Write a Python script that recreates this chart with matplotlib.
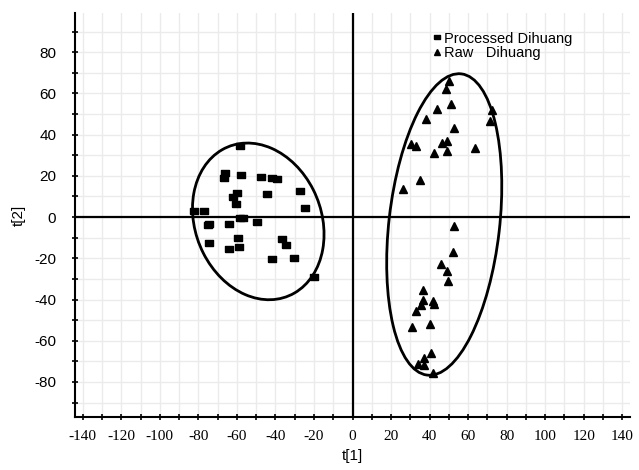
import matplotlib
matplotlib.use("Agg")
import matplotlib.pyplot as plt
from matplotlib.patches import Ellipse
from matplotlib.lines import Line2D
import numpy as np

# Processed Dihuang (squares)
proc_x = [-58.5, -66, -66.5, -58, -47.3, -41.8, -39.3, -59.7, -61.8, -44.3, -27.3, -60.2,
          -24.7, -82.3, -77.2, -58.5, -56.8, -49.3, -74.8, -74.3, -64.3, -74.5, -59.5,
          -64.3, -59, -36.4, -34.6, -41.8, -30.2, -19.9]
proc_y = [34.6, 21.5, 19, 20.6, 19.4, 18.9, 18.5, 11.6, 9.9, 11.2, 12.8, 6.5,
          4.4, 2.8, 2.8, -0.6, -0.6, -2.3, -3.9, -3.3, -3.3, -12.5, -10.4,
          -15.3, -14.6, -10.7, -13.5, -20.5, -20.1, -29.1]

# Raw Dihuang (triangles)
raw_x = [49.9, 48.7, 51.3, 44.1, 72.2, 71.5, 37.9, 52.5, 30.5, 32.9, 46.2, 49, 49, 42.4,
         63.7, 35, 26.4, 52.5, 52, 46, 49.2, 49.8, 36.4, 36.4, 35.5, 41.9, 42.4, 32.9,
         30.7, 40, 40.8, 37.2, 34, 37.2, 41.8]
raw_y = [66, 62.1, 54.8, 52.3, 51.7, 46.8, 47.5, 43.1, 35.3, 34.3, 35.8, 37.1, 31.9, 30.9,
         33.5, 17.9, 13.7, -4.2, -16.9, -22.9, -26.3, -31.2, -35.5, -40.2, -42.6, -40.6,
         -42.3, -45.5, -53.2, -52, -66, -68.4, -71.4, -71.9, -75.6]

# Confidence ellipses: center, full width, full height, angle (deg)
ell1 = dict(center=(-48.9, -2.1), width=79.0, height=64.8, angle=-61.6)
ell2 = dict(center=(47.6, -3.6), width=147.2, height=57.4, angle=83.0)

xticks_major = list(range(-140, 141, 20))
xticks_minor = list(range(-140, 141, 10))
yticks_major = list(range(-80, 81, 20))
yticks_minor = list(range(-90, 91, 10))

fig = plt.figure(figsize=(6.39, 4.70), dpi=100)
ax = fig.add_axes([75/639, 53/470, 555/639, 404/470])
ax.set_xlim(-144, 144)
ax.set_ylim(-97, 99)

# grid
for v in xticks_minor:
    ax.axvline(v, color="#ebebeb", lw=1.0, zorder=0)
for v in yticks_minor:
    ax.axhline(v, color="#ebebeb", lw=1.0, zorder=0)

ax.axhline(0, color="black", lw=1.6, zorder=2)
ax.axvline(0, color="black", lw=1.6, zorder=2)

sq = [(-1.4, -1), (1.4, -1), (1.4, 1), (-1.4, 1), (-1.4, -1)]
ax.plot(proc_x, proc_y, linestyle="none", marker=sq, markersize=5.2, color="black", zorder=3)
ax.plot(raw_x, raw_y, linestyle="none", marker="^", markersize=5.2, color="black", zorder=3)

for e in (ell1, ell2):
    ax.add_patch(Ellipse(e["center"], e["width"], e["height"], angle=e["angle"],
                         fill=False, edgecolor="black", lw=2.0, zorder=4))

for s in ("top", "right"):
    ax.spines[s].set_visible(False)
for s in ("left", "bottom"):
    ax.spines[s].set_linewidth(1.5)

ax.set_xticks(xticks_minor)
ax.set_xticklabels([str(v) if v in xticks_major else "" for v in xticks_minor],
                   family="Liberation Serif", fontsize=11)
ax.set_yticks(yticks_minor)
ax.set_yticklabels([str(v) if v in yticks_major else "" for v in yticks_minor],
                   family="Liberation Sans", fontsize=11)
ax.tick_params(axis="both", direction="inout", length=5, width=1.2, pad=7)
ax.tick_params(axis="y", pad=11)

ax.set_xlabel("t[1]", family="Liberation Sans", fontsize=11, labelpad=4)
ax.set_ylabel("t[2]", family="Liberation Sans", fontsize=11, labelpad=6)

handles = [Line2D([], [], linestyle="none", marker=sq, markersize=4.5, color="black"),
           Line2D([], [], linestyle="none", marker="^", markersize=4.5, color="black")]
leg = ax.legend(handles, ["Processed Dihuang", "Raw   Dihuang"], loc="upper left",
                bbox_to_anchor=(0.632, 0.972), frameon=False, handlelength=0.5,
                handletextpad=0.25, labelspacing=0.05, borderpad=0,
                prop={"family": "Liberation Sans", "size": 10.5})

fig.savefig("out.png", dpi=100)
